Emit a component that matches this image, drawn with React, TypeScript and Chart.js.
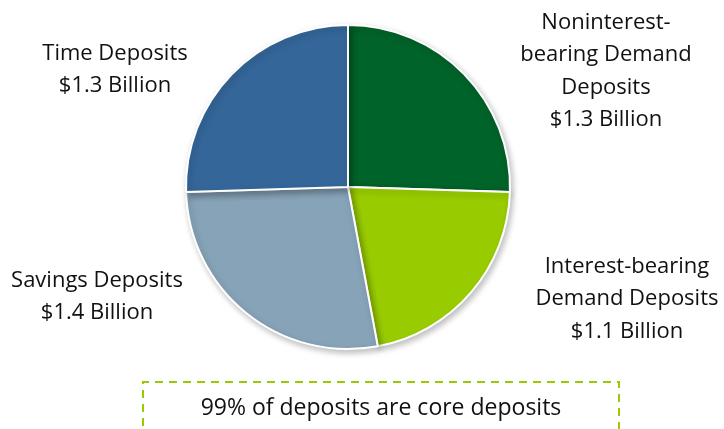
import React, { useEffect, useRef } from "react";
import { Chart, registerables } from "chart.js";

Chart.register(...registerables);

const categories = [
  "Noninterest-bearing Demand Deposits",
  "Interest-bearing Demand Deposits",
  "Savings Deposits",
  "Time Deposits",
];
const values = [1.3, 1.1, 1.4, 1.3];
const colors = ["#006329", "#99CC00", "#87A3B8", "#346699"];
const labelLines = [
  ["Noninterest-", "bearing Demand", "Deposits", "$1.3 Billion"],
  ["Interest-bearing", "Demand Deposits", "$1.1 Billion"],
  ["Savings Deposits", "$1.4 Billion"],
  ["Time Deposits", "$1.3 Billion"],
];
const labelAnchors = [
  [606, 29],
  [627, 273],
  [97, 287],
  [115, 60],
];
const note = "99% of deposits are core deposits";

const FONT = "'Open Sans', sans-serif";

const overlayPlugin = {
  id: "overlay",
  beforeDatasetsDraw(chart: any) {
    const ctx = chart.ctx;
    ctx.save();
    ctx.shadowColor = "rgba(0,0,0,0.25)";
    ctx.shadowBlur = 6;
    ctx.shadowOffsetX = 2;
    ctx.shadowOffsetY = 3;
  },
  afterDatasetsDraw(chart: any) {
    const ctx = chart.ctx;
    ctx.restore();
    ctx.save();
    ctx.fillStyle = "#111111";
    ctx.font = `22px ${FONT}`;
    ctx.textAlign = "center";
    ctx.textBaseline = "alphabetic";
    labelLines.forEach((lines, i) => {
      const [x, y] = labelAnchors[i];
      lines.forEach((t, j) => ctx.fillText(t, x, y + j * 32.3));
    });
    // note box
    ctx.strokeStyle = "#99CC00";
    ctx.lineWidth = 2;
    ctx.setLineDash([8, 6]);
    ctx.beginPath();
    ctx.moveTo(143, 440);
    ctx.lineTo(143, 382);
    ctx.lineTo(619, 382);
    ctx.lineTo(619, 440);
    ctx.stroke();
    ctx.setLineDash([]);
    ctx.font = `23px ${FONT}`;
    ctx.fillText(note, 381, 415);
    ctx.restore();
  },
};

export default function App() {
  const ref = useRef<HTMLCanvasElement>(null);
  useEffect(() => {
    if (!ref.current) return;
    const chart = new Chart(ref.current, {
      type: "pie",
      data: {
        labels: categories,
        datasets: [
          {
            data: values,
            backgroundColor: colors,
            borderColor: "#ffffff",
            borderWidth: 2,
          },
        ],
      },
      options: {
        animation: false,
        responsive: false,
        layout: { padding: { left: 0, right: 28, top: 24, bottom: 79 } },
        plugins: {
          legend: { display: false },
          tooltip: { enabled: false },
        },
      },
      plugins: [overlayPlugin],
    });
    return () => chart.destroy();
  }, []);
  return (
    <div style={{ position: "fixed", left: 0, top: 0, width: 724, height: 429, background: "#fff" }}>
      <canvas ref={ref} width={724} height={429} style={{ width: 724, height: 429 }} />
    </div>
  );
}
